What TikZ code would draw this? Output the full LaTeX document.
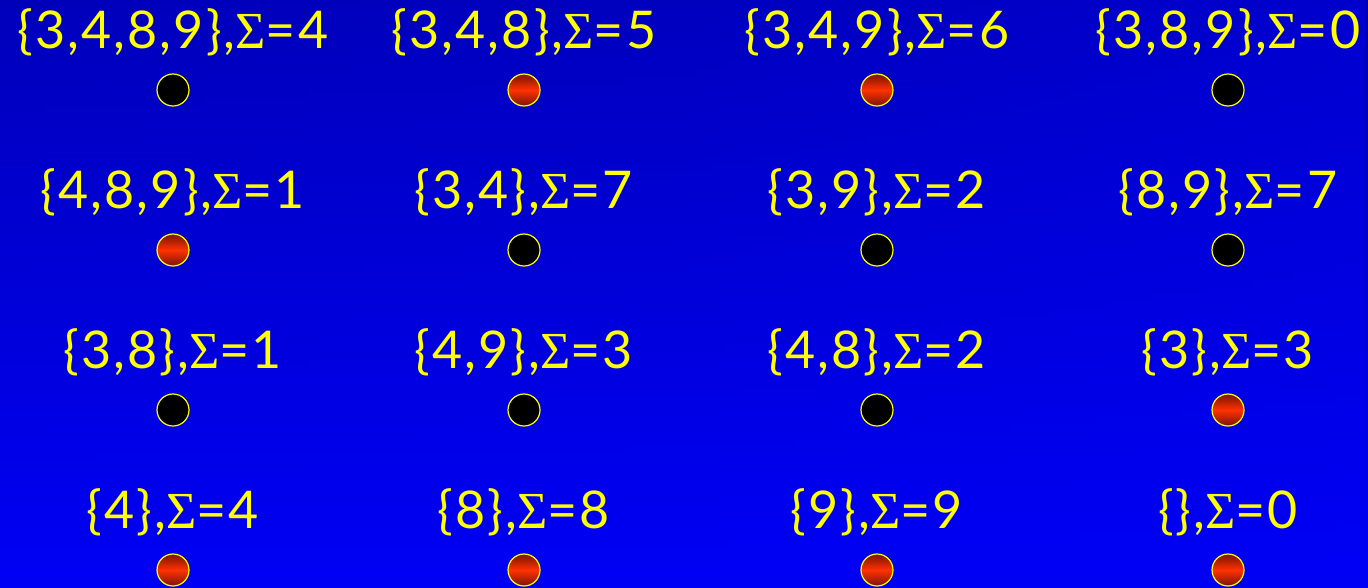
\documentclass[tikz,border=0pt]{standalone}
\usepackage{fontspec}
\usetikzlibrary{fadings}
\setsansfont[LetterSpace=4]{Lato}
\newfontfamily\sigmafont{Liberation Serif}
\definecolor{bgtop}{RGB}{0,0,165}
\definecolor{bgmid}{RGB}{0,0,213}
\definecolor{bglight}{RGB}{0,0,246}
\definecolor{dotmid}{RGB}{255,50,0}
\definecolor{dotedge}{RGB}{120,20,0}
\definecolor{txt}{RGB}{255,255,0}
\newcommand{\Sg}{{\sigmafont Σ}}
\pgfdeclarehorizontalshading{hfadeshade}{100bp}{color(0bp)=(black); color(24bp)=(black!80); color(50bp)=(black!68); color(75bp)=(black!25); color(100bp)=(white)}
\begin{tikzfadingfrompicture}[name=hfade]
\shade[shading=hfadeshade] (0,0) rectangle (4,2);
\end{tikzfadingfrompicture}
\tikzset{
  lbl/.style={text=txt, font=\fontsize{52}{56}\selectfont\sffamily, inner sep=0pt, anchor=center},
  dotbase/.style={circle, minimum size=32pt, inner sep=0pt, draw=txt, line width=1.2pt},
  blackdot/.style={dotbase, fill=black},
  reddot/.style={dotbase, top color=dotedge, bottom color=dotedge, middle color=dotmid},
}
\begin{document}
\begin{tikzpicture}[x=1pt,y=-1pt]
\shade[top color=bgtop, middle color=bgmid, bottom color=bglight] (0,0) rectangle (1368,587);
\fill[bglight, path fading=hfade, fit fading=true] (0,0) rectangle (1368,587);
\useasboundingbox (0,0) rectangle (1368,587);
\def\cA{173}\def\cB{524}\def\cC{877}\def\cD{1228}
% row 1
\node[lbl] (t11) at (\cA,32) {\{3,4,8,9\},\Sg=4};
\node[lbl] (t12) at (\cB,32) {\{3,4,8\},\Sg=5};
\node[lbl] (t13) at (\cC,32) {\{3,4,9\},\Sg=6};
\node[lbl] (t14) at (\cD,32) {\{3,8,9\},\Sg=0};
\node[blackdot] (d11) at (\cA,90) {};
\node[reddot] (d12) at (\cB,90) {};
\node[reddot] (d13) at (\cC,90) {};
\node[blackdot] (d14) at (\cD,90) {};
% row 2
\node[lbl] (t21) at (\cA,192) {\{4,8,9\},\Sg=1};
\node[lbl] (t22) at (\cB,192) {\{3,4\},\Sg=7};
\node[lbl] (t23) at (\cC,192) {\{3,9\},\Sg=2};
\node[lbl] (t24) at (\cD,192) {\{8,9\},\Sg=7};
\node[reddot] (d21) at (\cA,250) {};
\node[blackdot] (d22) at (\cB,250) {};
\node[blackdot] (d23) at (\cC,250) {};
\node[blackdot] (d24) at (\cD,250) {};
% row 3
\node[lbl] (t31) at (\cA,352) {\{3,8\},\Sg=1};
\node[lbl] (t32) at (\cB,352) {\{4,9\},\Sg=3};
\node[lbl] (t33) at (\cC,352) {\{4,8\},\Sg=2};
\node[lbl] (t34) at (\cD,352) {\{3\},\Sg=3};
\node[blackdot] (d31) at (\cA,410) {};
\node[blackdot] (d32) at (\cB,410) {};
\node[blackdot] (d33) at (\cC,410) {};
\node[reddot] (d34) at (\cD,410) {};
% row 4
\node[lbl] (t41) at (\cA,512) {\{4\},\Sg=4};
\node[lbl] (t42) at (\cB,512) {\{8\},\Sg=8};
\node[lbl] (t43) at (\cC,512) {\{9\},\Sg=9};
\node[lbl] (t44) at (\cD,512) {\{\},\Sg=0};
\node[reddot] (d41) at (\cA,570) {};
\node[reddot] (d42) at (\cB,570) {};
\node[reddot] (d43) at (\cC,570) {};
\node[reddot] (d44) at (\cD,570) {};
\end{tikzpicture}
\end{document}
